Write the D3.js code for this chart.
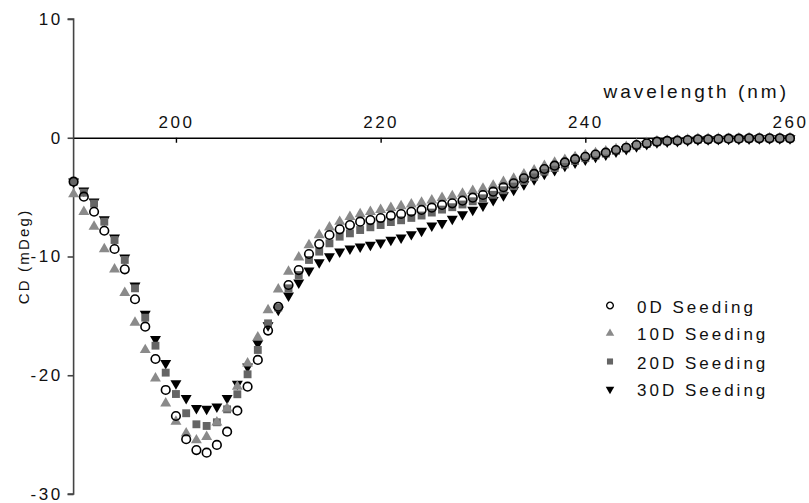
<!DOCTYPE html>
<html>
<head>
<meta charset="utf-8">
<script src="https://cdn.jsdelivr.net/npm/d3@7"></script>
<style>
  html, body { margin: 0; padding: 0; background: #fff; }
  svg text { font-family: "Liberation Sans", Arial, sans-serif; fill: #111; }
</style>
</head>
<body>
<svg id="chart" width="809" height="503"></svg>
<script>
const wavelengths = d3.range(190, 261);
const seriesNames = ["0D Seeding", "10D Seeding", "20D Seeding", "30D Seeding"];
const xTicks = [200, 220, 240, 260];
const yTicks = [10, 0, -10, -20, -30];

const cd0D = [-3.70,-4.96,-6.23,-7.83,-9.37,-11.08,-13.60,-15.91,-18.63,-21.24,
  -23.43,-25.39,-26.30,-26.52,-25.87,-24.75,-22.98,-20.96,-18.71,-16.24,
  -14.23,-12.40,-11.14,-9.79,-8.95,-8.19,-7.71,-7.35,-7.07,-6.93,
  -6.76,-6.56,-6.42,-6.23,-6.08,-5.89,-5.66,-5.52,-5.30,-5.05,
  -4.82,-4.54,-4.17,-3.84,-3.41,-3.05,-2.63,-2.35,-2.08,-1.80,
  -1.60,-1.42,-1.26,-1.03,-0.84,-0.61,-0.47,-0.33,-0.27,-0.25,
  -0.19,-0.13,-0.13,-0.11,-0.08,-0.08,-0.05,-0.05,-0.05,-0.05,-0.05];
const cd10D = [-4.74,-6.23,-7.49,-9.37,-11.08,-13.05,-15.57,-17.87,-20.26,-22.36,
  -23.91,-24.89,-25.47,-25.18,-23.96,-22.78,-20.96,-18.99,-16.80,-14.52,
  -12.76,-11.28,-10.07,-9.03,-8.19,-7.54,-7.07,-6.65,-6.42,-6.23,
  -6.08,-5.90,-5.76,-5.60,-5.46,-5.26,-5.06,-4.92,-4.70,-4.48,
  -4.28,-4.03,-3.72,-3.44,-3.07,-2.74,-2.36,-2.10,-1.86,-1.62,
  -1.45,-1.30,-1.15,-0.95,-0.77,-0.56,-0.43,-0.30,-0.24,-0.21,
  -0.16,-0.10,-0.10,-0.08,-0.06,-0.05,-0.03,-0.03,-0.03,-0.03,-0.03];
const cd20D = [-3.70,-4.63,-5.55,-7.07,-8.61,-10.29,-12.68,-15.15,-17.51,-19.78,
  -21.58,-23.20,-24.13,-24.27,-23.96,-22.87,-21.60,-19.92,-17.87,-15.63,
  -14.30,-12.68,-11.56,-10.29,-9.59,-8.89,-8.33,-8.05,-7.77,-7.54,
  -7.35,-7.10,-6.95,-6.75,-6.55,-6.30,-6.05,-5.85,-5.62,-5.35,
  -5.10,-4.80,-4.42,-4.08,-3.65,-3.30,-2.85,-2.55,-2.25,-1.95,
  -1.72,-1.52,-1.34,-1.10,-0.90,-0.68,-0.52,-0.38,-0.30,-0.27,
  -0.21,-0.15,-0.14,-0.12,-0.09,-0.08,-0.06,-0.05,-0.05,-0.05,-0.05];
const cd30D = [-3.70,-4.46,-5.38,-6.87,-8.41,-10.10,-12.46,-14.84,-16.97,-18.99,
  -20.68,-21.94,-22.78,-22.84,-22.65,-21.94,-20.74,-19.28,-17.31,-15.80,
  -14.50,-13.30,-12.20,-11.20,-10.50,-10.00,-9.60,-9.35,-9.17,-9.03,
  -8.84,-8.61,-8.42,-8.13,-7.85,-7.41,-7.20,-6.84,-6.45,-6.08,
  -5.72,-5.25,-4.85,-4.40,-3.92,-3.50,-3.05,-2.72,-2.38,-2.10,
  -1.85,-1.62,-1.42,-1.18,-0.96,-0.72,-0.55,-0.40,-0.32,-0.28,
  -0.22,-0.16,-0.15,-0.13,-0.10,-0.09,-0.07,-0.06,-0.06,-0.06,-0.06];

const svg = d3.select("#chart");
const x = d3.scaleLinear().domain([190, 260]).range([73.6, 790]);
const y = d3.scaleLinear().domain([-30, 10]).range([494, 19]);
const fmt = d => String(d);

// y axis
const yAxis = svg.append("g").attr("transform", `translate(${x(190)},0)`)
  .call(d3.axisLeft(y).tickValues(yTicks).tickFormat(fmt).tickSize(6).tickPadding(5));
yAxis.select(".domain").attr("stroke", "#444").attr("stroke-width", 1.6).attr("d", `M-6,${y(10)}H0V${y(-30)}H-6`);
yAxis.selectAll(".tick line").attr("stroke", "#444").attr("stroke-width", 1.6);
yAxis.selectAll(".tick text").style("font-size", "17px").style("letter-spacing", "2.5px").attr("fill", "#111");

// x axis at y=0
const xAxis = svg.append("g").attr("transform", `translate(0,${y(0)})`)
  .call(d3.axisBottom(x).tickValues(xTicks).tickFormat(fmt).tickSize(5).tickSizeOuter(0));
xAxis.select(".domain").attr("stroke", "#000").attr("stroke-width", 1.6);
xAxis.selectAll(".tick line").attr("stroke", "#000").attr("stroke-width", 1.4);
xAxis.selectAll(".tick text").attr("y", -10).attr("dy", "0").style("font-size", "17px").style("letter-spacing", "2.5px").attr("fill", "#111");

// axis titles
svg.append("text").attr("x", 789).attr("y", 98).attr("text-anchor", "end")
  .style("font-size", "19px").style("letter-spacing", "3px").text("wavelength (nm)");
svg.append("text").attr("transform", `translate(29,${y(-10)}) rotate(-90)`).attr("text-anchor", "middle")
  .style("font-size", "15px").style("letter-spacing", "2.2px").text("CD (mDeg)");

const styles = [
  {data: cd0D, type: d3.symbolCircle, size: 58, rot: 0, fill: "none", stroke: "#000", sw: 1.6},
  {data: cd10D, type: d3.symbolTriangle, size: 52, rot: 0, fill: "#8a8a8a", stroke: "none", sw: 0},
  {data: cd20D, type: d3.symbolSquare, size: 62, rot: 0, fill: "#656565", stroke: "none", sw: 0},
  {data: cd30D, type: d3.symbolTriangle, size: 52, rot: 180, fill: "#000", stroke: "none", sw: 0}
];
const drawOrder = [3, 2, 1, 0];
drawOrder.forEach(i => {
  const s = styles[i];
  const g = svg.append("g");
  g.selectAll("path").data(wavelengths.map((w, k) => [w, s.data[k]])).join("path")
    .attr("d", d3.symbol().type(s.type).size(s.size))
    .attr("transform", d => `translate(${x(d[0])},${y(d[1])}) rotate(${s.rot})`)
    .attr("fill", s.fill).attr("stroke", s.stroke).attr("stroke-width", s.sw);
});

// legend
const legendRows = [305.5, 333.3, 361.5, 389.3];
seriesNames.forEach((name, i) => {
  const s = styles[i];
  svg.append("path").attr("d", d3.symbol().type(s.type).size(s.size * 0.6))
    .attr("transform", `translate(610,${legendRows[i]}) rotate(${s.rot})`)
    .attr("fill", s.fill).attr("stroke", s.stroke).attr("stroke-width", s.sw * 0.85);
  svg.append("text").attr("x", 637).attr("y", legendRows[i] + 7)
    .style("font-size", "17px").style("letter-spacing", "3px").text(name);
});
</script>
</body>
</html>
